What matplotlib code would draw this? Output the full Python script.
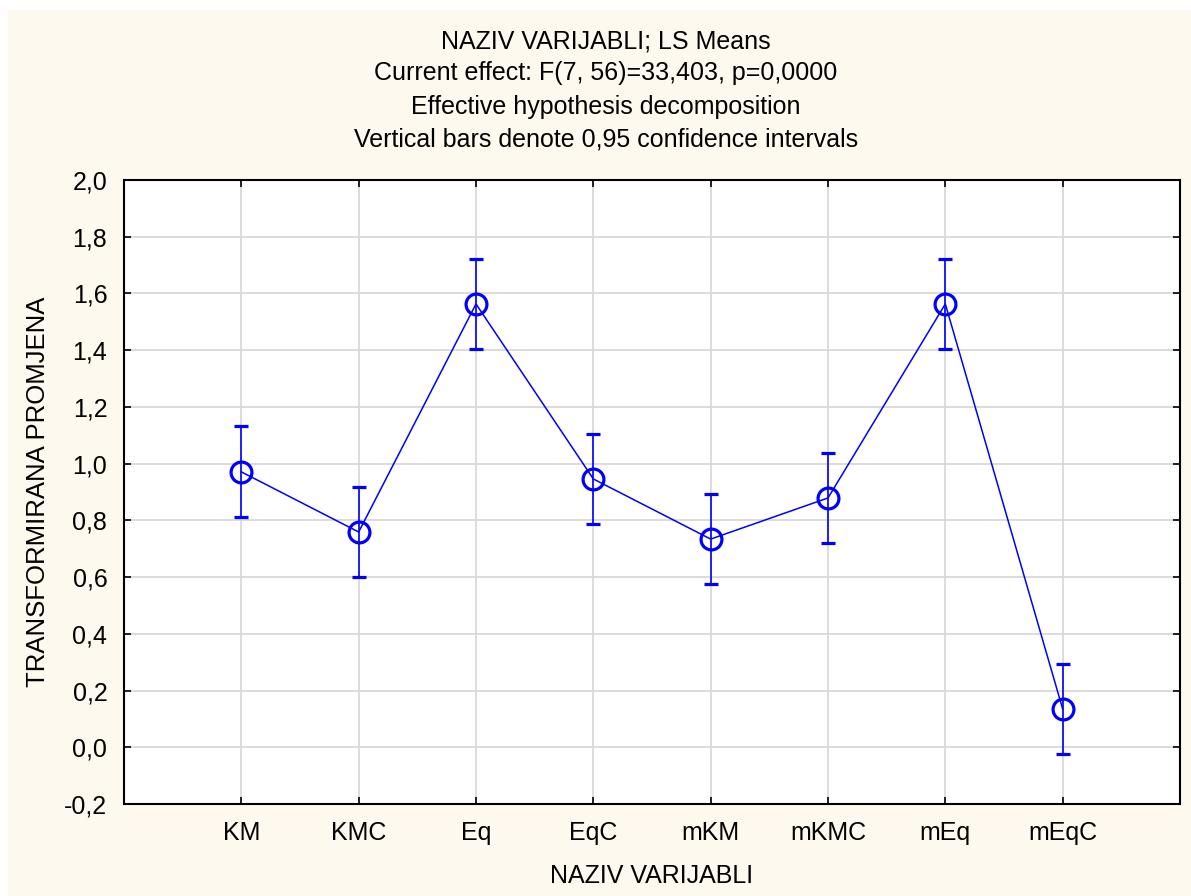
#!/usr/bin/env python

import matplotlib
matplotlib.use('Agg')
import matplotlib.pyplot as plt
from matplotlib.patches import Rectangle
from matplotlib.ticker import FuncFormatter, MultipleLocator

categories = ['KM', 'KMC', 'Eq', 'EqC', 'mKM', 'mKMC', 'mEq', 'mEqC']
ls_means = [0.971, 0.759, 1.563, 0.946, 0.734, 0.879, 1.563, 0.135]
ci_half = [0.160, 0.160, 0.160, 0.160, 0.160, 0.160, 0.160, 0.160]

title_lines = ['NAZIV VARIJABLI; LS Means',
               'Current effect: F(7, 56)=33,403, p=0,0000',
               'Effective hypothesis decomposition',
               'Vertical bars denote 0,95 confidence intervals']

plt.rcParams['font.family'] = ['Liberation Sans', 'DejaVu Sans']

W, H = 1191, 896
fig = plt.figure(figsize=(W / 100, H / 100), dpi=100, facecolor='white')
fig.patches.append(Rectangle((8 / W, 0), 1 - 8 / W, 1 - 10 / H,
                             transform=fig.transFigure, facecolor='#fef9ee',
                             edgecolor='none', zorder=-10))

ax = fig.add_axes([124 / W, 1 - 804 / H, (1180 - 124) / W, (804 - 180) / H])
ax.set_facecolor('white')

xs = list(range(1, len(categories) + 1))
ax.errorbar(xs, ls_means, yerr=ci_half, color='#0000ff', linewidth=1.1,
            elinewidth=1.2, capsize=5, capthick=1.0, marker='o',
            markersize=15, markerfacecolor='none', markeredgewidth=2.3,
            zorder=3)

ax.set_xlim(0, len(categories) + 1)
ax.set_ylim(-0.2, 2.0)
ax.set_xticks(xs)
ax.set_xticklabels(categories)
ax.yaxis.set_major_locator(MultipleLocator(0.2))
ax.yaxis.set_major_formatter(FuncFormatter(lambda v, p: ('%.1f' % v).replace('.', ',')))
ax.grid(True, color='#d9d9d9', linewidth=1.3, zorder=0)
ax.set_axisbelow(True)
ax.tick_params(direction='in', length=5, width=1.2, labelsize=18,
               top=True, right=True, pad=12, colors='black')
for s in ax.spines.values():
    s.set_linewidth(1.5)

ax.set_xlabel('NAZIV VARIJABLI', fontsize=18, labelpad=14)
ax.set_ylabel('TRANSFORMIRANA PROMJENA', fontsize=18.5, labelpad=10)

for line, ypix in zip(title_lines, [41, 73, 107, 140]):
    fig.text(606 / W, 1 - ypix / H, line, ha='center', va='center', fontsize=18)

fig.savefig('out.png', dpi=100, facecolor=fig.get_facecolor())
